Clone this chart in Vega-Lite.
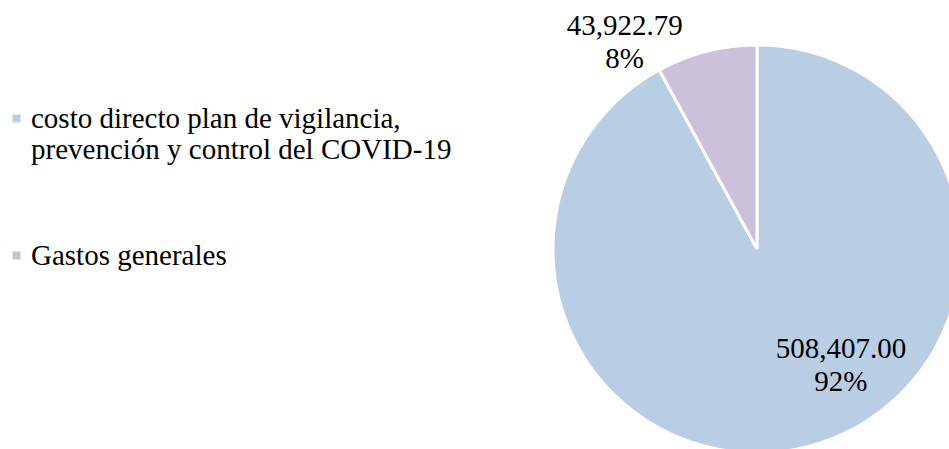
{
  "$schema": "https://vega.github.io/schema/vega-lite/v6.json",
  "width": 408,
  "height": 408,
  "autosize": {"type": "none"},
  "padding": {"left": 553, "top": 45, "right": 0, "bottom": 0},
  "background": "white",
  "config": {
    "view": {"stroke": null},
    "font": "'Liberation Serif', 'Times New Roman', serif",
    "text": {"font": "'Liberation Serif', 'Times New Roman', serif"}
  },
  "data": {
    "values": [
      {"categoria": "costo directo plan de vigilancia, prevención y control del COVID-19", "valor": 508407.00, "orden": 1},
      {"categoria": "Gastos generales", "valor": 43922.79, "orden": 2}
    ]
  },
  "transform": [
    {"joinaggregate": [{"op": "sum", "field": "valor", "as": "total"}]},
    {"calculate": "[format(datum.valor, ',.2f'), format(datum.valor / datum.total, '.0%')]", "as": "etiqueta"}
  ],
  "encoding": {
    "theta": {"field": "valor", "type": "quantitative", "stack": true},
    "order": {"field": "orden", "type": "quantitative"},
    "color": {
      "field": "categoria",
      "type": "nominal",
      "scale": {
        "domain": ["costo directo plan de vigilancia, prevención y control del COVID-19", "Gastos generales"],
        "range": ["#B9CDE5", "#CCC1DA"]
      },
      "legend": {
        "title": null,
        "orient": "none",
        "legendX": -551,
        "legendY": 59,
        "padding": 0,
        "symbolType": "square",
        "symbolSize": 64,
        "symbolStrokeWidth": 0,
        "labelFont": "'Liberation Serif', 'Times New Roman', serif",
        "labelFontSize": 29,
        "labelColor": "#000000",
        "labelLimit": 600,
        "labelOffset": 0,
        "labelLineHeight": 33,
        "rowPadding": 76,
        "labelExpr": "datum.label == 'Gastos generales' ? datum.label : ['costo directo plan de vigilancia,', 'prevención y control del COVID-19']"
      }
    }
  },
  "layer": [
    {
      "mark": {"type": "arc", "outerRadius": 204, "stroke": "white", "strokeWidth": 3}
    },
    {
      "transform": [{"filter": "datum.orden == 1"}],
      "mark": {"type": "text", "radius": 121, "dx": 54, "dy": -8, "fontSize": 29, "lineHeight": 33, "baseline": "alphabetic", "align": "center"},
      "encoding": {
        "text": {"field": "etiqueta"},
        "color": {"value": "#000000"}
      }
    },
    {
      "transform": [{"filter": "datum.orden == 2"}],
      "mark": {"type": "text", "radius": 213, "dx": -185, "dy": -8, "fontSize": 29, "lineHeight": 33, "baseline": "alphabetic", "align": "center"},
      "encoding": {
        "text": {"field": "etiqueta"},
        "color": {"value": "#000000"}
      }
    }
  ]
}
